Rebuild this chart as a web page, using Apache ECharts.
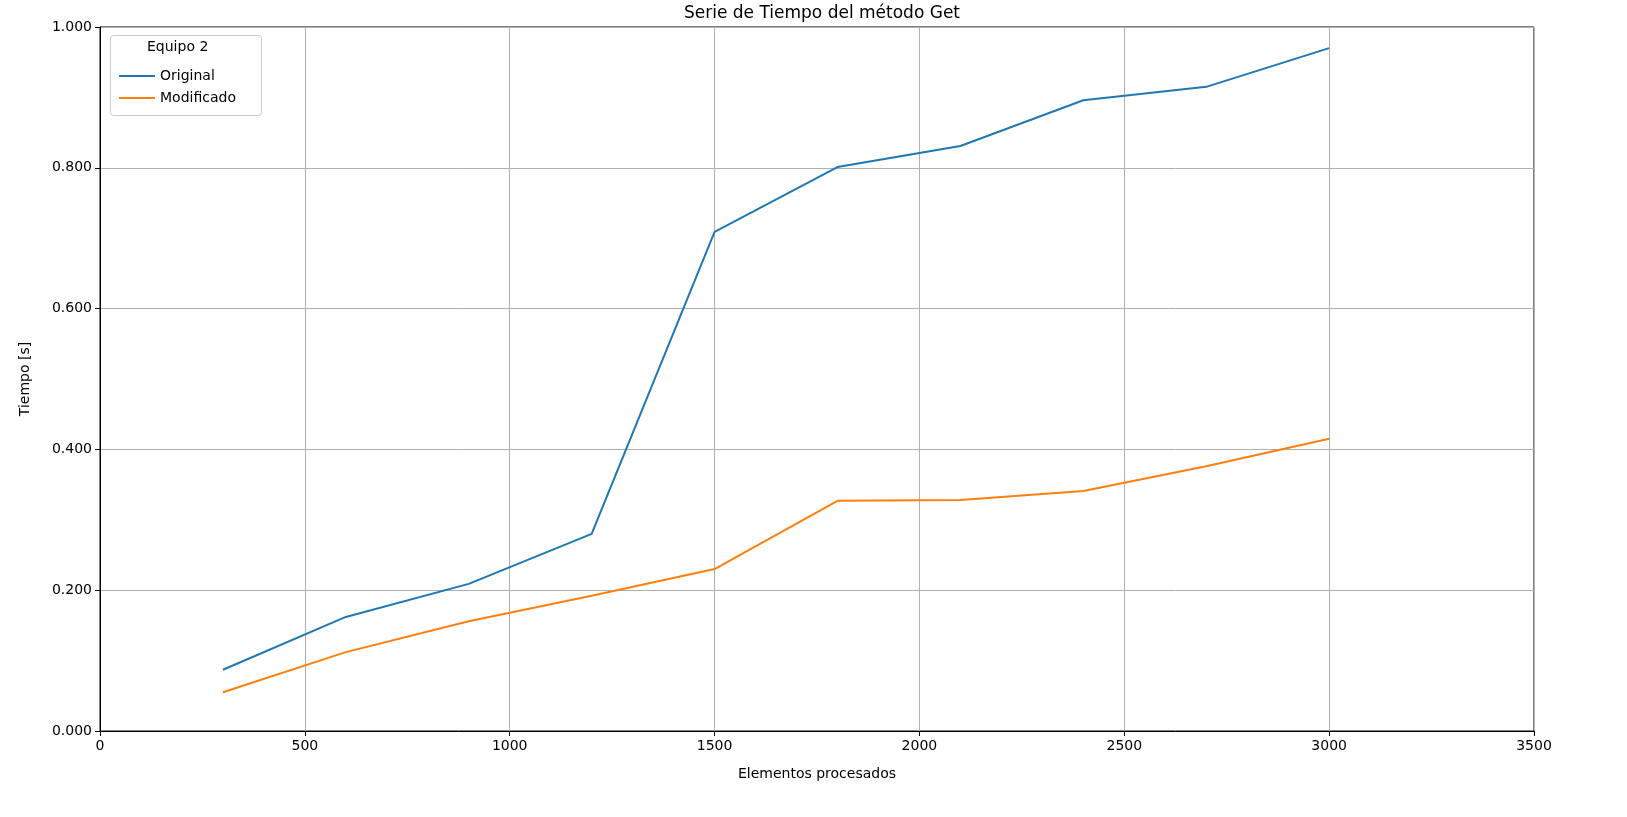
<!DOCTYPE html>
<html>
<head>
<meta charset="utf-8">
<script src="https://cdn.jsdelivr.net/npm/echarts@6/dist/echarts.min.js"></script>
<style>html,body{margin:0;padding:0;background:#fff}#main{width:1627px;height:817px}</style>
</head>
<body>
<div id="main"></div>
<script>
// datos
var elementos = [300, 600, 900, 1200, 1500, 1800, 2100, 2400, 2700, 3000];
var original = [0.087, 0.162, 0.209, 0.280, 0.709, 0.801, 0.831, 0.896, 0.915, 0.970];
var modificado = [0.055, 0.112, 0.156, 0.192, 0.230, 0.327, 0.328, 0.341, 0.376, 0.415];

function pares(ys) {
    return elementos.map(function (x, i) { return [x, ys[i]]; });
}

var chart = echarts.init(document.getElementById('main'));
var font = 'DejaVu Sans';
var option = {
    animation: false,
    textStyle: { fontFamily: font },
    title: {
        text: 'Serie de Tiempo del método Get',
        left: 817, top: 0, textAlign: 'center',
        textStyle: { fontSize: 17, fontWeight: 'normal', color: '#000', fontFamily: font }
    },
    graphic: [{
        type: 'rect', left: 110, top: 35,
        shape: { width: 151, height: 80, r: 3 },
        style: { fill: '#fff', stroke: '#ccc', lineWidth: 1 }, z: 10
    }, {
        type: 'text', left: 147, top: 40,
        style: { text: 'Equipo 2', fontSize: 14, fill: '#000', fontFamily: font }, z: 11
    }],
    legend: {
        orient: 'vertical', left: 114, top: 64, itemGap: 8,
        itemWidth: 36, itemHeight: 14, z: 12,
        icon: 'path://M0,6 L36,6 L36,8 L0,8 Z',
        textStyle: { fontSize: 14, color: '#000', fontFamily: font },
        data: ['Original', 'Modificado']
    },
    grid: { left: 100, right: 93, top: 27, bottom: 86, show: true, borderColor: '#000', borderWidth: 1 },
    xAxis: {
        type: 'value', min: 0, max: 3500, interval: 500,
        name: 'Elementos procesados', nameLocation: 'middle', nameGap: 36,
        nameTextStyle: { fontSize: 14, color: '#000' },
        axisLine: { show: true, lineStyle: { color: '#000' } },
        axisTick: { show: true, lineStyle: { color: '#000' } },
        axisLabel: { fontSize: 14, color: '#000', formatter: function (v) { return String(v); } },
        splitLine: { show: true, lineStyle: { color: '#b0b0b0' } }
    },
    yAxis: {
        type: 'value', min: 0, max: 1, interval: 0.2,
        name: 'Tiempo [s]', nameLocation: 'middle', nameGap: 68,
        nameTextStyle: { fontSize: 14, color: '#000' },
        axisLine: { show: true, lineStyle: { color: '#000' } },
        axisTick: { show: true, lineStyle: { color: '#000' } },
        axisLabel: { fontSize: 14, color: '#000', formatter: function (v) { return v.toFixed(3); } },
        splitLine: { show: true, lineStyle: { color: '#b0b0b0' } }
    },
    series: [{
        name: 'Original', type: 'line', data: pares(original),
        showSymbol: false, color: '#1f77b4', lineStyle: { width: 2 }
    }, {
        name: 'Modificado', type: 'line', data: pares(modificado),
        showSymbol: false, color: '#ff7f0e', lineStyle: { width: 2 }
    }]
};
chart.setOption(option);
</script>
</body>
</html>
